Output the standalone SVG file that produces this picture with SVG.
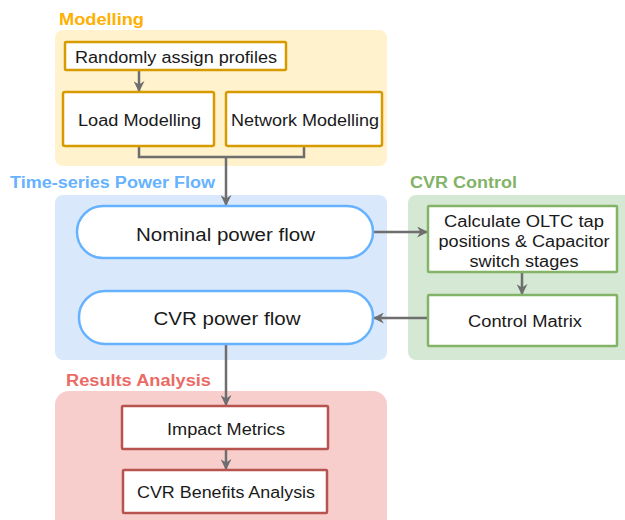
<svg xmlns="http://www.w3.org/2000/svg" width="625" height="520" viewBox="0 0 625 520">
<style>
text{font-family:"Liberation Sans",Arial,sans-serif;font-size:16px;fill:#1a1a1a;text-anchor:middle}
.title{font-weight:bold;text-anchor:start}
.big{font-size:18px}
.orange{fill:#fff;stroke:#d79b00;stroke-width:2.5}
.blue{fill:#fff;stroke:#66b2ff;stroke-width:2.5}
.green{fill:#fff;stroke:#82b366;stroke-width:2.5}
.red{fill:#fff;stroke:#b85450;stroke-width:2.5}
.conn{fill:none;stroke:#6e6e6e;stroke-width:2.5}
</style>
<defs>
<marker id="arr" viewBox="0 0 10 10" refX="9" refY="5" markerWidth="4.4" markerHeight="4.4" orient="auto" markerUnits="strokeWidth">
<path d="M0,0 L10,5 L0,10 L3,5 Z" fill="#6e6e6e"/>
</marker>
</defs>
<rect width="625" height="520" fill="#fff"/>

<g id="modelling-group">
<rect x="55" y="30" width="332" height="136" rx="8" fill="#fff2cc"/>
<text class="title" x="59" y="25" fill="#ffb000" style="fill:#ffb000" textLength="85" lengthAdjust="spacingAndGlyphs">Modelling</text>
</g>
<g id="timeseries-group">
<rect x="55" y="195" width="332" height="165" rx="8" fill="#dae8fc"/>
<text class="title" x="10" y="188" style="fill:#66b2ff" textLength="205" lengthAdjust="spacingAndGlyphs">Time-series Power Flow</text>
</g>
<g id="cvr-control-group">
<rect x="408" y="195" width="225" height="165" rx="8" fill="#d5e8d4"/>
<text class="title" x="410" y="188" style="fill:#82b366" textLength="107" lengthAdjust="spacingAndGlyphs">CVR Control</text>
</g>
<g id="results-group">
<rect x="55" y="391" width="332" height="140" rx="14" fill="#f8cecc"/>
<text class="title" x="66" y="386" style="fill:#ea6b66" textLength="145" lengthAdjust="spacingAndGlyphs">Results Analysis</text>
</g>

<g id="connectors">
<path class="conn" d="M139,70 L139,91" marker-end="url(#arr)"/>
<path class="conn" d="M139,146 L139,157 L304,157 L304,146"/>
<path class="conn" d="M226,157 L226,205" marker-end="url(#arr)"/>
<path class="conn" d="M373,232 L427,232" marker-end="url(#arr)"/>
<path class="conn" d="M522,272 L522,294" marker-end="url(#arr)"/>
<path class="conn" d="M428,318 L374,318" marker-end="url(#arr)"/>
<path class="conn" d="M226,344 L226,405" marker-end="url(#arr)"/>
<path class="conn" d="M226,449 L226,469" marker-end="url(#arr)"/>
</g>

<g id="randomly-assign">
<rect class="orange" x="65" y="42" width="221" height="28" rx="1"/>
<text x="176" y="63" textLength="202" lengthAdjust="spacingAndGlyphs">Randomly assign profiles</text>
</g>
<g id="load-modelling">
<rect class="orange" x="63" y="92" width="151" height="54" rx="2"/>
<text x="139.5" y="126" textLength="123" lengthAdjust="spacingAndGlyphs">Load Modelling</text>
</g>
<g id="network-modelling">
<rect class="orange" x="226" y="92" width="156" height="54" rx="2"/>
<text x="305" y="126" textLength="148" lengthAdjust="spacingAndGlyphs">Network Modelling</text>
</g>
<g id="nominal-power-flow">
<rect class="blue" x="77" y="206" width="296" height="52" rx="26"/>
<text class="big" x="225.5" y="241" textLength="179" lengthAdjust="spacingAndGlyphs">Nominal power flow</text>
</g>
<g id="cvr-power-flow">
<rect class="blue" x="79" y="291" width="294" height="53" rx="26"/>
<text class="big" x="227" y="325" textLength="147" lengthAdjust="spacingAndGlyphs">CVR power flow</text>
</g>
<g id="calculate-oltc">
<rect class="green" x="428" y="206" width="189" height="66" rx="1"/>
<text x="524" y="227" textLength="160" lengthAdjust="spacingAndGlyphs">Calculate OLTC tap</text>
<text x="524" y="247" textLength="171" lengthAdjust="spacingAndGlyphs">positions &amp; Capacitor</text>
<text x="524" y="267" textLength="109" lengthAdjust="spacingAndGlyphs">switch stages</text>
</g>
<g id="control-matrix">
<rect class="green" x="428" y="295" width="189" height="51" rx="1"/>
<text x="525" y="327" textLength="114" lengthAdjust="spacingAndGlyphs">Control Matrix</text>
</g>
<g id="impact-metrics">
<rect class="red" x="122" y="406" width="206" height="43" rx="1"/>
<text x="226" y="435" textLength="118" lengthAdjust="spacingAndGlyphs">Impact Metrics</text>
</g>
<g id="cvr-benefits">
<rect class="red" x="123" y="470" width="204" height="43" rx="1"/>
<text x="226" y="498" textLength="178" lengthAdjust="spacingAndGlyphs">CVR Benefits Analysis</text>
</g>
</svg>
